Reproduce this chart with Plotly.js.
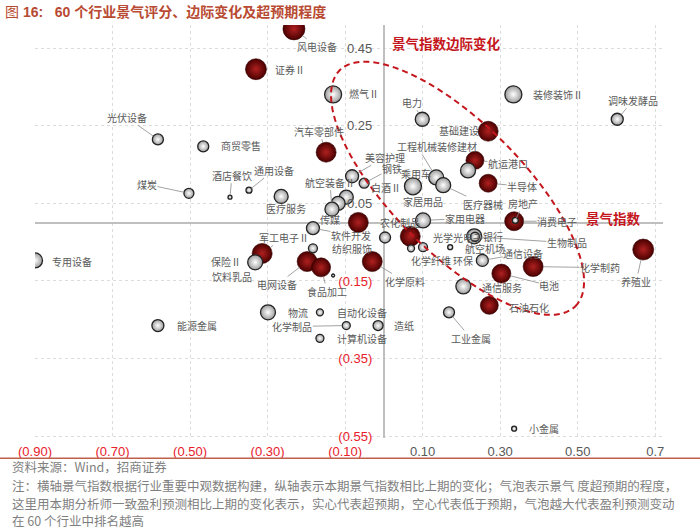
<!DOCTYPE html>
<html><head><meta charset="utf-8">
<script src="https://cdn.plot.ly/plotly-3.0.1.min.js"></script>
<style>html,body{margin:0;padding:0;background:#fff}#chart{width:700px;height:530px}</style>
</head><body><div id="chart"></div>
<script>
// ---------- data ----------
const industries = ["风电设备","证券Ⅱ","燃气Ⅱ","电力","装修装饰Ⅱ","调味发酵品","光伏设备","商贸零售","汽车零部件","煤炭",
"酒店餐饮","通用设备","医疗服务","白酒Ⅱ","传媒","航空装备Ⅱ","美容护理","钢铁","乘用车","工程机械",
"医疗器械","装修建材","基础建设","航运港口","半导体","房地产","消费电子","家用电器","农化制品","光学光电子",
"银行","生物制品","航空机场","化学纤维","环保","通信设备","电池","化学制药","通信服务","石油石化",
"工业金属","养殖业","小金属","造纸","自动化设备","物流","化学制品","计算机设备","能源金属","专用设备",
"保险Ⅱ","军工电子Ⅱ","饮料乳品","电网设备","食品加工","软件开发","纺织服饰","化学原料","家居用品"];
// 景气指数 (x)
const xIndex = [-0.232,-0.330,-0.131,0.099,0.334,0.602,-0.583,-0.466,-0.149,-0.503,
-0.397,-0.348,-0.265,-0.097,-0.118,-0.134,-0.082,-0.051,0.075,0.135,
0.153,0.217,0.269,0.235,0.269,0.339,0.336,0.101,-0.066,0.068,
0.233,0.235,0.171,0.070,0.101,0.254,0.303,0.385,0.205,0.272,
0.168,0.669,0.336,-0.015,-0.165,-0.299,-0.097,-0.165,-0.583,-0.900,
-0.332,-0.314,-0.131,-0.198,-0.162,-0.183,-0.183,-0.030,0.003];
// 景气指数边际变化 (y)
const yChange = [0.500,0.396,0.331,0.267,0.331,0.267,0.215,0.197,0.182,0.076,
0.066,0.084,0.068,0.066,0.050,0.035,0.120,0.102,0.094,0.117,
0.097,0.135,0.236,0.161,0.102,0.006,0.004,0.006,0.001,-0.035,
-0.035,-0.036,-0.063,-0.066,-0.063,-0.097,-0.131,-0.113,-0.164,-0.213,
-0.231,-0.069,-0.531,-0.265,-0.231,-0.231,-0.265,-0.298,-0.265,-0.097,
-0.102,-0.079,-0.136,-0.100,-0.115,-0.014,-0.066,-0.100,-0.038];
// 盈利预测变动排名 (bubble magnitude)
const bubbleRank = [22,21,17,14,17,12,11,11,20,10,
4,6,14,14,14,14,13,10,17,15,
15,15,20,18,18,6,19,15,20,20,
15,9,5,7,9,12,19,20,15,18,
11,21,5,10,7,15,8,8,12,15,
15,20,3,20,19,13,9,20,11];
// 1 = 超预期 (solid), 0 = 低于预期 (hollow)
const beatExpect = [1,1,0,0,0,0,0,0,1,0,
0,0,0,0,0,0,0,0,0,0,
0,0,1,1,1,0,1,0,1,1,
0,0,0,0,0,0,1,1,0,1,
0,1,0,0,0,0,0,0,0,0,
0,1,0,1,1,0,0,1,0];
const xTickVals = [-0.9,-0.7,-0.5,-0.3,-0.1,0.1,0.3,0.5,0.7];
const xTickText = ["(0.90)","(0.70)","(0.50)","(0.30)","(0.10)","0.10","0.30","0.50","0.7"];
const yTickVals = [0.45,0.25,0.05,-0.15,-0.35,-0.55];
const yTickText = ["0.45","0.25","0.05","(0.15)","(0.35)","(0.55)"];

// ---------- label layout (pixel offsets of label from bubble, leader line flag) ----------
const labelLayout = {
"风电设备":[23,18,1],"证券Ⅱ":[34,0,0],"燃气Ⅱ":[31,-1,0],"电力":[-10,-17,1],"装修装饰Ⅱ":[45,0,0],
"调味发酵品":[16,-19,1],"光伏设备":[-31,-22,1],"商贸零售":[38,-1,0],"汽车零部件":[-7,-21,1],"煤炭":[-42,-9,1],
"酒店餐饮":[2,-22,1],"通用设备":[25,-20,1],"医疗服务":[5,12,0],"白酒Ⅱ":[40,-10,0],"传媒":[-8,16,0],
"航空装备Ⅱ":[-2,-27,1],"美容护理":[33,-19,1],"钢铁":[28,-15,1],"乘用车":[3,-13,0],"工程机械":[-19,-31,1],
"医疗器械":[40,19,1],"装修建材":[-11,-24,0],"基础建设":[-29,-1,0],"航运港口":[33,3,1],"半导体":[34,3,1],
"房地产":[8,-17,1],"消费电子":[43,0,1],"家用电器":[42,-2,1],"农化制品":[42,0,0],"光学光电子":[48,1,0],
"银行":[19,0,0],"生物制品":[92,6,1],"航空机场":[35,1,0],"化学纤维":[20,12,0],"环保":[40,13,0],
"通信设备":[41,-7,1],"电池":[48,12,1],"化学制药":[67,1,1],"通信服务":[39,1,0],"石油石化":[40,2,0],
"工业金属":[22,26,1],"养殖业":[-7,32,1],"小金属":[30,0,0],"造纸":[26,0,0],"自动化设备":[42,0,0],
"物流":[30,0,0],"化学制品":[-54,1,1],"计算机设备":[42,0,0],"能源金属":[39,0,0],"专用设备":[37,1,0],
"保险Ⅱ":[-29,-1,0],"军工电子Ⅱ":[22,-16,1],"饮料乳品":[-101,1,0],"电网设备":[-30,23,1],"食品加工":[6,24,1],
"软件开发":[38,7,1],"纺织服饰":[39,0,0],"化学原料":[33,20,1],"家居用品":[38,-36,0]
};

// ---------- styling ----------
const RED = '#e8202a', GRAY = '#595959';
const span = (t, v) => v < 0 ? `<span style="color:${RED}">${t}</span>` : t;
const order = industries.map((_, i) => i).sort((a, b) => bubbleRank[b] - bubbleRank[a]);
const pick = arr => order.map(i => arr[i]);
const solid = pick(beatExpect);

const trace = {
  type: 'scatter', mode: 'markers',
  x: pick(xIndex), y: pick(yChange), text: pick(industries),
  hoverinfo: 'text',
  marker: {
    size: pick(bubbleRank), sizemode: 'diameter', sizeref: 1,
    color: solid.map(s => s ? '#4a0000' : '#9c9c9c'),
    gradient: {type: 'radial', color: solid.map(s => s ? '#b02020' : '#ffffff')},
    line: {color: solid.map(s => s ? '#330000' : '#232323'), width: solid.map(s => s ? 0.6 : 1.3)},
    opacity: 1
  },
  cliponaxis: true, showlegend: false
};

// ellipse highlighting the improving zone
const ec = [0.190, 0.089], ea = 0.430, eb = 0.168;
const u = [Math.SQRT1_2, -Math.SQRT1_2], v = [Math.SQRT1_2, Math.SQRT1_2];
let path = '';
for (let k = 0; k <= 120; k++) {
  const t = 2 * Math.PI * k / 120;
  const px = ec[0] + ea * Math.cos(t) * u[0] + eb * Math.sin(t) * v[0];
  const py = ec[1] + ea * Math.cos(t) * u[1] + eb * Math.sin(t) * v[1];
  path += (k ? ' L ' : 'M ') + px.toFixed(4) + ',' + py.toFixed(4);
}
path += ' Z';

const annFont = {family: 'Noto Sans CJK SC', size: 10, color: '#5a5a5a'};
const annotations = industries.map((name, i) => {
  const [dx, dy, lead] = labelLayout[name];
  return {
    x: xIndex[i], y: yChange[i], xref: 'x', yref: 'y', text: name,
    showarrow: true, ax: dx, ay: dy, arrowhead: 0, arrowwidth: 0.8,
    arrowcolor: lead ? '#8a8a8a' : 'rgba(0,0,0,0)', standoff: bubbleRank[i] / 2,
    font: annFont, borderpad: 0
  };
});

const L = 35, R = 37, T = 25, B = 92.3, W = 700 - L - R, H = 530 - T - B;
const px2x = p => (p - L) / W, py2y = p => (530 - B - p) / H;
const note = (txt, py) => ({xref: 'paper', yref: 'paper', x: px2x(10), y: py2y(py), xanchor: 'left', yanchor: 'middle',
  showarrow: false, text: txt, font: {family: 'Noto Sans CJK SC', size: 12.5, color: '#7f7f7f'}});
annotations.push(
  {xref: 'paper', yref: 'paper', x: px2x(446), y: py2y(43), xanchor: 'center', yanchor: 'middle', showarrow: false,
   text: '<b>景气指数边际变化</b>', font: {family: 'Noto Sans CJK SC', size: 13.5, color: '#c4161c'}},
  {xref: 'paper', yref: 'paper', x: px2x(613), y: py2y(218), xanchor: 'center', yanchor: 'middle', showarrow: false,
   text: '<b>景气指数</b>', font: {family: 'Noto Sans CJK SC', size: 13.5, color: '#c4161c'}},
  note('资料来源：Wind，招商证券', 466),
  note('注：横轴景气指数根据行业重要中观数据构建，纵轴表示本期景气指数相比上期的变化；气泡表示景气 度超预期的程度，', 485),
  note('这里用本期分析师一致盈利预测相比上期的变化表示，实心代表超预期，空心代表低于预期，气泡越大代表盈利预测变动', 503),
  note('在 60 个行业中排名越高', 520)
);

const xr = [-0.9, 0.72], yr = [-0.555, 0.51];
const layout = {
  width: 700, height: 530,
  margin: {l: L, r: R, t: T, b: B, pad: 0},
  paper_bgcolor: '#ffffff', plot_bgcolor: '#ffffff',
  title: {text: '图 <b>16:\u00a0\u00a0 60 个行业景气评分、边际变化及超预期程度</b>', xref: 'container', yref: 'container',
    x: 5 / 700, xanchor: 'left', y: 1 - 12 / 530, yanchor: 'middle',
    font: {family: 'Liberation Sans, Noto Sans CJK SC', size: 14, color: '#b84a32'}},
  xaxis: {range: xr, tickmode: 'array', tickvals: xTickVals,
    ticktext: xTickText.map((t, i) => span(t, xTickVals[i])),
    showgrid: true, gridcolor: '#dcdcdc', griddash: 'dot', gridwidth: 1, minor: {showgrid: false, ticks: ''},
    zeroline: true, zerolinecolor: '#bfbfbf', zerolinewidth: 1.5,
    showline: false, ticks: 'outside', ticklen: 1, tickcolor: 'rgba(0,0,0,0)',
    tickfont: {family: 'Liberation Sans, Arial', size: 13, color: GRAY}, fixedrange: true, automargin: false},
  yaxis: {range: yr, anchor: 'free', position: (0 - xr[0]) / (xr[1] - xr[0]), side: 'left',
    tickmode: 'array', tickvals: yTickVals, ticktext: yTickText.map((t, i) => span(t, yTickVals[i])),
    showgrid: true, gridcolor: '#dcdcdc', griddash: 'dot', gridwidth: 1, minor: {showgrid: false, ticks: ''},
    zeroline: true, zerolinecolor: '#bfbfbf', zerolinewidth: 1.5,
    showline: false, ticks: 'outside', ticklen: 9, tickcolor: 'rgba(0,0,0,0)',
    tickfont: {family: 'Liberation Sans, Arial', size: 13, color: GRAY}, fixedrange: true, automargin: false},
  shapes: [
    {type: 'path', path: path, xref: 'x', yref: 'y', line: {color: '#c4161c', width: 2, dash: '6px,4px'}, fillcolor: 'rgba(0,0,0,0)', layer: 'above'},
    {type: 'line', xref: 'paper', yref: 'paper', x0: px2x(0), x1: px2x(700), y0: py2y(458), y1: py2y(458),
     line: {color: '#c0604a', width: 1.5}}
  ],
  annotations: annotations,
  showlegend: false
};

Plotly.newPlot('chart', [trace], layout, {staticPlot: true, displayModeBar: false});
</script>
</body></html>
